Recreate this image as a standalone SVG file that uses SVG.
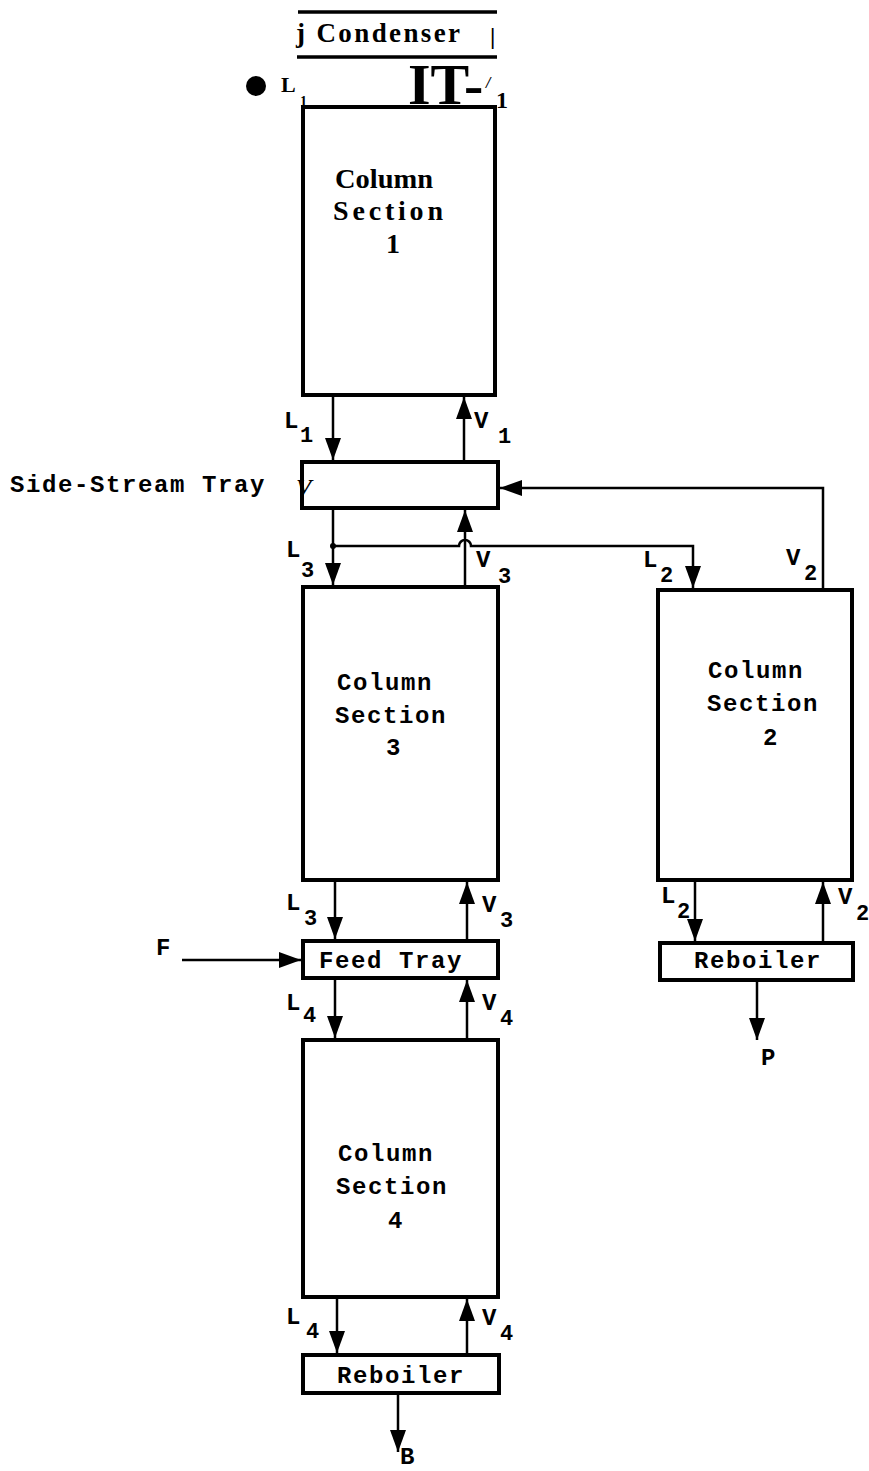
<svg xmlns="http://www.w3.org/2000/svg" width="869" height="1471" viewBox="0 0 869 1471">
<style>
.box{fill:#fff;stroke:#000;stroke-width:4}
.ln{fill:none;stroke:#000;stroke-width:2.5}
.serif{font-family:"Liberation Serif","Times New Roman",serif;font-weight:bold;fill:#000}
.mono{font-family:"Liberation Mono","Courier New",monospace;font-weight:bold;font-size:24px;letter-spacing:1.6px;fill:#000}
.lab{font-family:"Liberation Mono","Courier New",monospace;font-weight:bold;font-size:24px;fill:#000}
.sub{font-family:"Liberation Mono","Courier New",monospace;font-weight:bold;font-size:22px;fill:#000}
</style>
<defs>
<marker id="ah" markerUnits="userSpaceOnUse" markerWidth="22" markerHeight="16" refX="22" refY="8" orient="auto">
<path d="M0,0 L22,8 L0,16 z" fill="#000"/>
</marker>
</defs>
<rect width="869" height="1471" fill="#fff"/>

<g id="condenser">
<line x1="298" y1="12" x2="497" y2="12" stroke="#000" stroke-width="3.5"/>
<line x1="297" y1="57" x2="497" y2="57" stroke="#000" stroke-width="3.5"/>
<text class="serif" x="296" y="42" font-size="27" textLength="164" lengthAdjust="spacing">j Condenser</text>
<text class="serif" x="490" y="44" font-size="24">|</text>
</g>

<g id="top-labels">
<circle cx="256" cy="86" r="10" fill="#000"/>
<text class="serif" x="281" y="92" font-size="22">L</text>
<text class="serif" x="300" y="106" font-size="14">1</text>
<text class="serif" x="408" y="104" font-size="58">IT-</text>
<text class="serif" x="486" y="88" font-size="16" font-style="italic">/</text>
<text class="serif" x="496" y="108" font-size="24">1</text>
</g>

<g id="section1">
<rect class="box" x="303" y="107" width="192" height="288"/>
<text class="serif" x="335" y="188" font-size="28" textLength="98" lengthAdjust="spacingAndGlyphs">Column</text>
<text class="serif" x="333" y="220" font-size="28" textLength="110" lengthAdjust="spacing">Section</text>
<text class="serif" x="386" y="253" font-size="28">1</text>
</g>

<g id="side-stream-tray">
<rect class="box" x="302" y="462" width="196" height="46"/>
<text class="mono" x="10" y="492">Side-Stream Tray</text>
<text class="serif" x="296" y="495" font-size="24" font-style="italic" font-weight="normal">V</text>
</g>

<g id="section3">
<rect class="box" x="303" y="587" width="195" height="293"/>
<text class="mono" x="337" y="690">Column</text>
<text class="mono" x="335" y="723">Section</text>
<text class="mono" x="386" y="755">3</text>
</g>

<g id="section2">
<rect class="box" x="658" y="590" width="194" height="290"/>
<text class="mono" x="708" y="678">Column</text>
<text class="mono" x="707" y="711">Section</text>
<text class="mono" x="763" y="745">2</text>
</g>

<g id="feed-tray">
<rect class="box" x="303" y="941" width="195" height="37"/>
<text class="mono" x="319" y="968">Feed Tray</text>
</g>

<g id="section4">
<rect class="box" x="303" y="1040" width="195" height="257"/>
<text class="mono" x="338" y="1161">Column</text>
<text class="mono" x="336" y="1194">Section</text>
<text class="mono" x="388" y="1228">4</text>
</g>

<g id="reboiler-bottom">
<rect class="box" x="303" y="1355" width="196" height="38"/>
<text class="mono" x="337" y="1383">Reboiler</text>
</g>

<g id="reboiler-side">
<rect class="box" x="660" y="943" width="193" height="37"/>
<text class="mono" x="694" y="968">Reboiler</text>
</g>

<g id="connectors">
<line class="ln" x1="333" y1="397" x2="333" y2="460" marker-end="url(#ah)"/>
<line class="ln" x1="464" y1="460" x2="464" y2="397" marker-end="url(#ah)"/>
<line class="ln" x1="333" y1="510" x2="333" y2="585" marker-end="url(#ah)"/>
<line class="ln" x1="465" y1="585" x2="465" y2="510" marker-end="url(#ah)"/>
<path class="ln" d="M333,546 L459,546 A6,6 0 0 1 471,546 L693,546 L693,588" marker-end="url(#ah)"/>
<circle cx="333" cy="546" r="3" fill="#000"/>
<path class="ln" d="M823,590 L823,488 L500,488" marker-end="url(#ah)"/>
<line class="ln" x1="335" y1="882" x2="335" y2="939" marker-end="url(#ah)"/>
<line class="ln" x1="467" y1="939" x2="467" y2="882" marker-end="url(#ah)"/>
<line class="ln" x1="182" y1="960" x2="301" y2="960" marker-end="url(#ah)"/>
<line class="ln" x1="335" y1="980" x2="335" y2="1038" marker-end="url(#ah)"/>
<line class="ln" x1="467" y1="1038" x2="467" y2="980" marker-end="url(#ah)"/>
<line class="ln" x1="337" y1="1299" x2="337" y2="1353" marker-end="url(#ah)"/>
<line class="ln" x1="467" y1="1353" x2="467" y2="1299" marker-end="url(#ah)"/>
<line class="ln" x1="398" y1="1395" x2="398" y2="1452" marker-end="url(#ah)"/>
<line class="ln" x1="695" y1="882" x2="695" y2="941" marker-end="url(#ah)"/>
<line class="ln" x1="823" y1="941" x2="823" y2="882" marker-end="url(#ah)"/>
<line class="ln" x1="757" y1="982" x2="757" y2="1040" marker-end="url(#ah)"/>
</g>

<g id="stream-labels">
<text class="lab" x="284" y="428">L</text><text class="sub" x="300" y="442">1</text>
<text class="lab" x="474" y="428">V</text><text class="sub" x="498" y="443">1</text>
<text class="lab" x="286" y="557">L</text><text class="sub" x="301" y="577">3</text>
<text class="lab" x="476" y="567">V</text><text class="sub" x="498" y="583">3</text>
<text class="lab" x="643" y="567">L</text><text class="sub" x="660" y="582">2</text>
<text class="lab" x="786" y="565">V</text><text class="sub" x="804" y="580">2</text>
<text class="lab" x="286" y="910">L</text><text class="sub" x="304" y="925">3</text>
<text class="lab" x="482" y="912">V</text><text class="sub" x="500" y="927">3</text>
<text class="lab" x="156" y="955">F</text>
<text class="lab" x="286" y="1010">L</text><text class="sub" x="303" y="1022">4</text>
<text class="lab" x="482" y="1010">V</text><text class="sub" x="500" y="1025">4</text>
<text class="lab" x="286" y="1324">L</text><text class="sub" x="306" y="1338">4</text>
<text class="lab" x="482" y="1325">V</text><text class="sub" x="500" y="1340">4</text>
<text class="lab" x="400" y="1464" font-size="22">B</text>
<text class="lab" x="661" y="903">L</text><text class="sub" x="677" y="918">2</text>
<text class="lab" x="838" y="904">V</text><text class="sub" x="856" y="920">2</text>
<text class="lab" x="761" y="1065">P</text>
</g>
</svg>
